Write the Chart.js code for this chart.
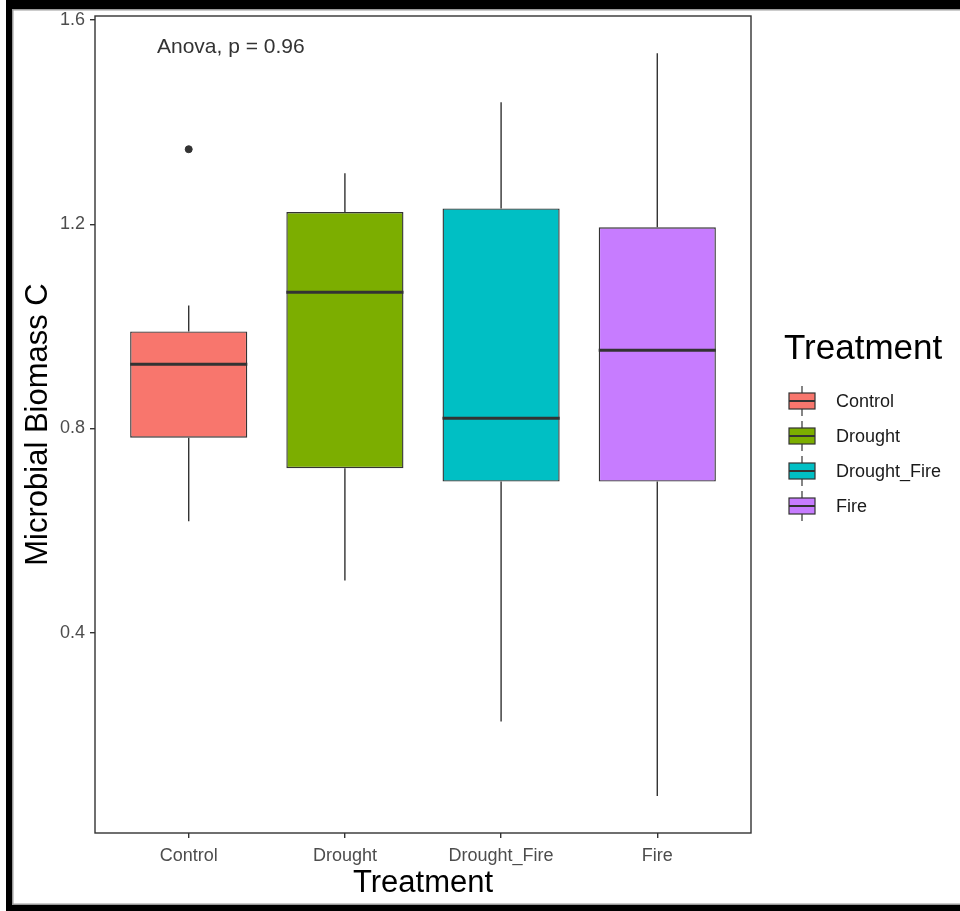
<!DOCTYPE html>
<html>
<head>
<meta charset="utf-8">
<title>Microbial Biomass C by Treatment</title>
<script src="https://cdn.jsdelivr.net/npm/chart.js@4.4.1/dist/chart.umd.min.js"></script>
<style>
  html, body { margin: 0; padding: 0; background: #ffffff; }
  canvas { display: block; }
</style>
</head>
<body>
<canvas id="chart" width="960" height="911"></canvas>
<script>
// Treatment groups and their box-plot summaries (Microbial Biomass C)
const categories   = ['Control', 'Drought', 'Drought_Fire', 'Fire'];
const whiskerLow   = [0.618, 0.502, 0.226, 0.080];
const q1           = [0.782, 0.722, 0.696, 0.696];
const median       = [0.926, 1.067, 0.820, 0.953];
const q3           = [0.990, 1.224, 1.231, 1.194];
const whiskerHigh  = [1.041, 1.300, 1.439, 1.535];
const outlierGroup = ['Control'];
const outlierValue = [1.347];
const yTicks       = [0.4, 0.8, 1.2, 1.6];
const fillColors   = ['#F8766D', '#7CAE00', '#00BFC4', '#C77CFF'];
const anovaLabel   = 'Anova, p = 0.96';
const legendTitle  = 'Treatment';

const INK = '#333333';
const FONT = '"Liberation Sans", Arial, sans-serif';

// Boxes are floating bars spanning the inter-quartile range
const boxData = categories.map((c, i) => ({ x: i + 1, y: [q1[i], q3[i]] }));
const outlierData = outlierGroup.map((g, i) => ({ x: categories.indexOf(g) + 1, y: outlierValue[i] }));

// Outer frame around the figure
const framePlugin = {
  id: 'frame',
  beforeDraw(chart) {
    const { ctx, width, height } = chart;
    ctx.save();
    ctx.fillStyle = '#ffffff';
    ctx.fillRect(0, 0, width, height);
    ctx.fillStyle = '#000000';
    ctx.fillRect(6, 0, 6, height);
    ctx.fillRect(6, 0, width - 6, 9);
    ctx.fillRect(6, height - 6, width - 6, 6);
    ctx.fillStyle = '#9a9a9a';
    ctx.fillRect(12, 9, 1.5, height - 15);
    ctx.fillRect(12, 9, width - 12, 1.5);
    ctx.fillRect(12, height - 7.5, width - 12, 1.5);
    ctx.restore();
  }
};

// Whiskers, medians, panel border, annotation and legend
const boxPlotPlugin = {
  id: 'boxplotParts',
  beforeDatasetsDraw(chart) {
    const { ctx, scales: { x, y } } = chart;
    ctx.save();
    ctx.strokeStyle = INK;
    ctx.lineWidth = 1.4;
    categories.forEach((c, i) => {
      const px = x.getPixelForValue(i + 1);
      ctx.beginPath();
      ctx.moveTo(px, y.getPixelForValue(q3[i]));
      ctx.lineTo(px, y.getPixelForValue(whiskerHigh[i]));
      ctx.moveTo(px, y.getPixelForValue(q1[i]));
      ctx.lineTo(px, y.getPixelForValue(whiskerLow[i]));
      ctx.stroke();
    });
    ctx.restore();
  },
  afterDatasetsDraw(chart) {
    const { ctx, chartArea: a, scales: { x, y } } = chart;
    const meta = chart.getDatasetMeta(0);
    ctx.save();
    // median lines
    ctx.strokeStyle = INK;
    ctx.lineWidth = 3;
    meta.data.forEach((bar, i) => {
      const half = bar.width / 2;
      const py = y.getPixelForValue(median[i]);
      ctx.beginPath();
      ctx.moveTo(bar.x - half, py);
      ctx.lineTo(bar.x + half, py);
      ctx.stroke();
    });
    // panel border
    ctx.lineWidth = 1.4;
    ctx.strokeStyle = INK;
    ctx.strokeRect(a.left, a.top, a.right - a.left, a.bottom - a.top);
    // test annotation
    ctx.fillStyle = INK;
    ctx.font = '21px ' + FONT;
    ctx.textBaseline = 'middle';
    ctx.textAlign = 'left';
    ctx.fillText(anovaLabel, 157, 47);
    // legend
    ctx.fillStyle = '#000000';
    ctx.font = '35px ' + FONT;
    ctx.fillText(legendTitle, 784, 349);
    ctx.font = '18px ' + FONT;
    categories.forEach((c, i) => {
      const cy = 401 + i * 35;
      const kx = 789, kw = 26, cx = kx + kw / 2;
      ctx.strokeStyle = INK;
      ctx.lineWidth = 1.2;
      ctx.beginPath();
      ctx.moveTo(cx, cy - 15);
      ctx.lineTo(cx, cy + 15);
      ctx.stroke();
      ctx.fillStyle = fillColors[i];
      ctx.fillRect(kx, cy - 8, kw, 16);
      ctx.strokeRect(kx, cy - 8, kw, 16);
      ctx.lineWidth = 2;
      ctx.beginPath();
      ctx.moveTo(kx, cy);
      ctx.lineTo(kx + kw, cy);
      ctx.stroke();
      ctx.fillStyle = '#1a1a1a';
      ctx.fillText(c, 836, cy + 1);
    });
    ctx.restore();
  }
};

new Chart(document.getElementById('chart'), {
  type: 'bar',
  data: {
    datasets: [
      {
        label: 'IQR',
        data: boxData,
        backgroundColor: fillColors,
        borderColor: INK,
        borderWidth: 1.4,
        borderSkipped: false,
        barPercentage: 0.75,
        categoryPercentage: 1,
        grouped: false,
        order: 2
      },
      {
        type: 'scatter',
        label: 'Outliers',
        data: outlierData,
        backgroundColor: INK,
        borderColor: INK,
        pointRadius: 3.5,
        pointHoverRadius: 3.5,
        order: 1
      }
    ]
  },
  options: {
    responsive: false,
    devicePixelRatio: 1,
    animation: false,
    events: [],
    layout: { padding: { left: 0, top: 16, right: 209, bottom: 0 } },
    plugins: {
      legend: { display: false },
      tooltip: { enabled: false }
    },
    scales: {
      x: {
        type: 'linear',
        offset: false,
        min: 0.4,
        max: 4.6,
        afterBuildTicks(scale) { scale.ticks = categories.map((c, i) => ({ value: i + 1 })); },
        afterFit(scale) { scale.height = 78; },
        ticks: {
          callback: (v) => categories[Math.round(v) - 1],
          color: '#4d4d4d',
          font: { family: FONT, size: 18 },
          padding: 7,
          maxRotation: 0,
          autoSkip: false
        },
        grid: { display: true, drawOnChartArea: false, drawTicks: true, tickLength: 5, color: INK, lineWidth: 1.4, offset: false },
        border: { display: false },
        title: {
          display: true,
          text: 'Treatment',
          color: '#000000',
          font: { family: FONT, size: 31 },
          padding: { top: 0, bottom: 9 }
        }
      },
      y: {
        type: 'linear',
        min: 0.0075,
        max: 1.608,
        beginAtZero: false,
        afterBuildTicks(scale) { scale.ticks = yTicks.map(v => ({ value: v })); },
        afterFit(scale) { scale.width = 95; },
        ticks: {
          callback: (v) => Number(v).toFixed(1),
          color: '#4d4d4d',
          font: { family: FONT, size: 18 },
          padding: 5
        },
        grid: { display: true, drawOnChartArea: false, drawTicks: true, tickLength: 5, color: INK, lineWidth: 1.4 },
        border: { display: false },
        title: {
          display: true,
          text: 'Microbial Biomass C',
          color: '#000000',
          font: { family: FONT, size: 31 },
          padding: { top: 20, bottom: 0 }
        }
      }
    }
  },
  plugins: [framePlugin, boxPlotPlugin]
});
</script>
</body>
</html>
